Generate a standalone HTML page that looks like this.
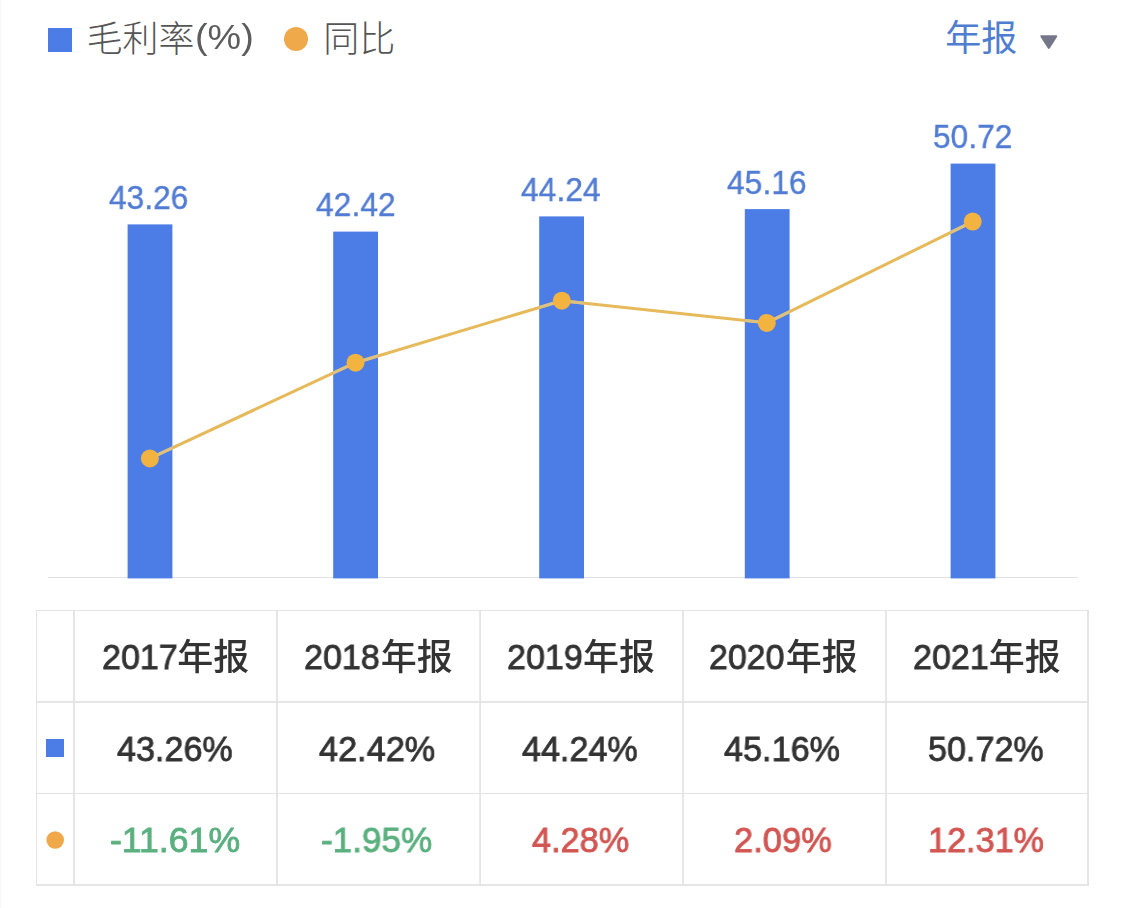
<!DOCTYPE html><html lang="zh"><head><meta charset="utf-8"><title>毛利率(%) 同比</title><style>
html,body{margin:0;padding:0;background:#fff;}
body{width:1125px;height:908px;position:relative;overflow:hidden;font-family:"Liberation Sans",sans-serif;}
.abs,.cjk,.t{position:absolute;}
.cjk{overflow:visible;display:block;}
.t{white-space:nowrap;line-height:1;transform-origin:0 0;will-change:transform;}
.bar{position:absolute;background:#4c7de6;}
.dl{color:#527cd3;-webkit-text-stroke:0.012em currentColor;}
.hd{color:#333;-webkit-text-stroke:0.024em currentColor;}
.v{color:#333;-webkit-text-stroke:0.024em currentColor;}
.lg{color:#5c5c5c;}
.g{color:#5bb07f;}
.r{color:#d25652;}
.cjkt{font-family:"Liberation Sans","Noto Sans CJK SC",sans-serif;font-size:36px;line-height:36px;height:36px;white-space:nowrap;}
</style></head><body>
<header>
<div class="abs" style="left:0;top:0;width:1px;height:908px;background:#f8f8f8"></div>
<div class="abs" style="left:48px;top:28px;width:24px;height:24px;background:#4c7de6"></div>
<div class="cjk cjkt" style="left:86.57px;top:22.42px;width:108.00px;color:#555;font-weight:300;">毛利率</div>
<div class="t lg" style="left:194.73px;top:18.69px;font-size:35.96px;transform:scaleX(1.0502);">(%)</div>
<div class="abs" style="left:284.3px;top:27.4px;width:24px;height:24px;border-radius:50%;background:#f0a94a"></div>
<div class="cjk cjkt" style="left:323.16px;top:22.42px;width:72.00px;color:#555;font-weight:300;">同比</div>
<div class="cjk cjkt" style="left:945.17px;top:21.12px;width:72.00px;color:#4f7ed0;font-weight:400;">年报</div>
<svg class="abs" style="left:1036px;top:30px" width="26" height="24" viewBox="1036 30 26 24"><path d="M1041.3 35.3 H1056.3 Q1058 35.3 1057 36.9 L1049.8 48.2 Q1048.8 49.6 1047.8 48.2 L1040.6 36.9 Q1039.6 35.3 1041.3 35.3Z" fill="#74778a"/></svg>
</header>
<main>
<svg class="abs" style="left:0;top:0" width="1125" height="908" viewBox="0 0 1125 908">
<line x1="48" y1="577.5" x2="1078" y2="577.5" stroke="#e2e2e2" stroke-width="1"/>
<rect x="127.6" y="224.4" width="44.8" height="354.0" fill="#4c7de6"/>
<rect x="333.2" y="231.6" width="44.8" height="346.8" fill="#4c7de6"/>
<rect x="539.2" y="216.4" width="44.8" height="362.0" fill="#4c7de6"/>
<rect x="744.8" y="209.1" width="44.8" height="369.3" fill="#4c7de6"/>
<rect x="950.6" y="163.6" width="44.8" height="414.8" fill="#4c7de6"/>
<polyline fill="none" stroke="#e6b95a" stroke-width="3" stroke-linejoin="round" points="149.9,458.4 355.5,362.7 561.8,300.7 766.8,322.9 972.7,221.6"/>
<clipPath id="bc"><rect x="127.6" y="224.4" width="44.8" height="354.0"/><rect x="333.2" y="231.6" width="44.8" height="346.8"/><rect x="539.2" y="216.4" width="44.8" height="362.0"/><rect x="744.8" y="209.1" width="44.8" height="369.3"/><rect x="950.6" y="163.6" width="44.8" height="414.8"/></clipPath>
<polyline clip-path="url(#bc)" fill="none" stroke="#dcc182" stroke-width="3" stroke-linejoin="round" points="149.9,458.4 355.5,362.7 561.8,300.7 766.8,322.9 972.7,221.6"/>
<circle cx="149.9" cy="458.4" r="9" fill="#f3b340"/>
<circle cx="355.5" cy="362.7" r="9" fill="#f3b340"/>
<circle cx="561.8" cy="300.7" r="9" fill="#f3b340"/>
<circle cx="766.8" cy="322.9" r="9" fill="#f3b340"/>
<circle cx="972.7" cy="221.6" r="9" fill="#f3b340"/>
<rect x="36.0" y="610" width="1" height="275.9" fill="#e3e3e3"/>
<rect x="73.1" y="610" width="1.8" height="275.9" fill="#e3e3e3"/>
<rect x="276.1" y="610" width="1.8" height="275.9" fill="#e3e3e3"/>
<rect x="479.25" y="610" width="1.7" height="275.9" fill="#e3e3e3"/>
<rect x="682.15" y="610" width="1.7" height="275.9" fill="#e3e3e3"/>
<rect x="885.15" y="610" width="1.7" height="275.9" fill="#e3e3e3"/>
<rect x="1087.1" y="610" width="1.8" height="275.9" fill="#e3e3e3"/>
<rect x="36" y="610.0" width="1052.9" height="1" fill="#e3e3e3"/>
<rect x="36" y="701.1" width="1052.9" height="1.8" fill="#e3e3e3"/>
<rect x="36" y="792.95" width="1052.9" height="1.1" fill="#e3e3e3"/>
<rect x="36" y="884.1" width="1052.9" height="1.8" fill="#e3e3e3"/>
<rect x="46" y="739" width="18" height="18" fill="#4c7de6"/>
<circle cx="55.2" cy="840" r="8.8" fill="#f0a94a"/>
</svg>
<div class="t dl" style="left:109.37px;top:180.78px;font-size:33.40px;transform:scaleX(0.9485);">43.26</div>
<div class="t dl" style="left:315.76px;top:188.15px;font-size:33.40px;transform:scaleX(0.9524);">42.42</div>
<div class="t dl" style="left:521.46px;top:172.95px;font-size:33.40px;transform:scaleX(0.9520);">44.24</div>
<div class="t dl" style="left:726.56px;top:165.83px;font-size:33.40px;transform:scaleX(0.9522);">45.16</div>
<div class="t dl" style="left:932.63px;top:119.88px;font-size:33.40px;transform:scaleX(0.9491);">50.72</div>
<div class="t hd" style="left:101.74px;top:640.22px;font-size:35.40px;transform:scaleX(0.9631);">2017</div>
<div class="cjk cjkt" style="left:177.22px;top:639.62px;width:72.00px;color:#333;font-weight:500;">年报</div>
<div class="t v" style="left:116.56px;top:732.02px;font-size:35.40px;transform:scaleX(0.9643);">43.26%</div>
<div class="t v g" style="left:110.23px;top:823.27px;font-size:35.40px;transform:scaleX(1.0067);">-11.61%</div>
<div class="t hd" style="left:303.84px;top:640.22px;font-size:35.40px;transform:scaleX(0.9631);">2018</div>
<div class="cjk cjkt" style="left:380.72px;top:639.62px;width:72.00px;color:#333;font-weight:500;">年报</div>
<div class="t v" style="left:319.16px;top:732.02px;font-size:35.40px;transform:scaleX(0.9685);">42.42%</div>
<div class="t v g" style="left:321.35px;top:823.27px;font-size:35.40px;transform:scaleX(0.9914);">-1.95%</div>
<div class="t hd" style="left:506.64px;top:640.22px;font-size:35.40px;transform:scaleX(0.9631);">2019</div>
<div class="cjk cjkt" style="left:583.02px;top:639.62px;width:72.00px;color:#333;font-weight:500;">年报</div>
<div class="t v" style="left:521.86px;top:732.02px;font-size:35.40px;transform:scaleX(0.9643);">44.24%</div>
<div class="t v r" style="left:531.76px;top:823.27px;font-size:35.40px;transform:scaleX(0.9675);">4.28%</div>
<div class="t hd" style="left:709.34px;top:640.22px;font-size:35.40px;transform:scaleX(0.9586);">2020</div>
<div class="cjk cjkt" style="left:785.72px;top:639.62px;width:72.00px;color:#333;font-weight:500;">年报</div>
<div class="t v" style="left:724.26px;top:732.02px;font-size:35.40px;transform:scaleX(0.9668);">45.16%</div>
<div class="t v r" style="left:734.12px;top:823.27px;font-size:35.40px;transform:scaleX(0.9739);">2.09%</div>
<div class="t hd" style="left:912.64px;top:640.22px;font-size:35.40px;transform:scaleX(0.9631);">2021</div>
<div class="cjk cjkt" style="left:988.72px;top:639.62px;width:72.00px;color:#333;font-weight:500;">年报</div>
<div class="t v" style="left:927.58px;top:732.02px;font-size:35.40px;transform:scaleX(0.9642);">50.72%</div>
<div class="t v r" style="left:927.55px;top:823.27px;font-size:35.40px;transform:scaleX(0.9669);">12.31%</div>
</main>
</body></html>
